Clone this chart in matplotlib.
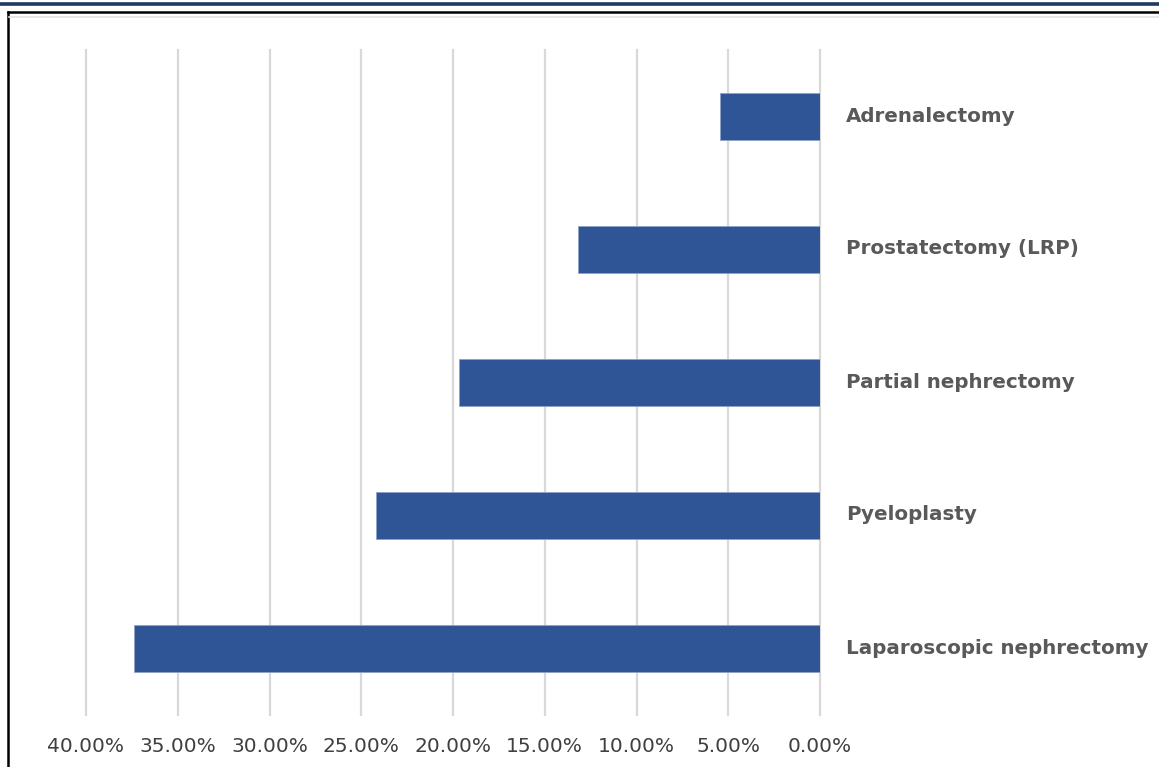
import matplotlib
matplotlib.use("Agg")
import matplotlib.pyplot as plt
import matplotlib.transforms as mtransforms
from matplotlib.lines import Line2D
from matplotlib.ticker import FuncFormatter, MultipleLocator

categories = ["Laparoscopic nephrectomy", "Pyeloplasty", "Partial nephrectomy",
              "Prostatectomy (LRP)", "Adrenalectomy"]
values = [37.4, 24.2, 19.7, 13.2, 5.45]

W, H = 1159, 767
fig = plt.figure(figsize=(W / 100, H / 100), dpi=100)
fig.patch.set_facecolor("white")

ax = fig.add_axes([86 / W, 1 - 715 / H, (820 - 86) / W, (715 - 50) / H])
ax.barh(range(len(categories)), values, height=0.35, color="#2F5597",
        edgecolor="#8EA3C8", linewidth=0.6, zorder=3)
ax.set_xlim(40, 0)
ax.set_ylim(-0.5, len(categories) - 0.5)
ax.xaxis.set_major_locator(MultipleLocator(5))
ax.xaxis.set_major_formatter(FuncFormatter(lambda v, p: f"{v:.2f}%"))
ax.grid(axis="x", color="#D9D9D9", linewidth=1.6, zorder=0)
for gl in ax.get_xgridlines():
    gl.set_clip_on(False)
for s in ax.spines.values():
    s.set_visible(False)
ax.tick_params(axis="x", length=0, pad=16, labelsize=14.5, labelcolor="#404040")
ax.yaxis.tick_right()
ax.set_yticks(range(len(categories)))
ax.set_yticklabels(categories, fontsize=14.3, fontweight="bold", color="#595959")
ax.tick_params(axis="y", length=0, pad=18.5)
shift = mtransforms.ScaledTranslation(0, 2.5 / 100, fig.dpi_scale_trans)
for lbl in ax.get_yticklabels():
    lbl.set_transform(lbl.get_transform() + shift)

# frame decorations
fig.add_artist(Line2D([0, 1], [1 - 3.5 / H] * 2, color="#1F3864", linewidth=2.6,
                      transform=fig.transFigure))
fig.add_artist(Line2D([7.5 / W, 1], [1 - 12 / H] * 2, color="black", linewidth=1.8,
                      transform=fig.transFigure))
fig.add_artist(Line2D([7.5 / W] * 2, [0, 1 - 12 / H], color="black", linewidth=1.8,
                      transform=fig.transFigure))
fig.add_artist(Line2D([9 / W, 1], [1 - 17 / H] * 2, color="#E3E3E3", linewidth=1.2,
                      transform=fig.transFigure))

fig.savefig("out.png", dpi=100)
